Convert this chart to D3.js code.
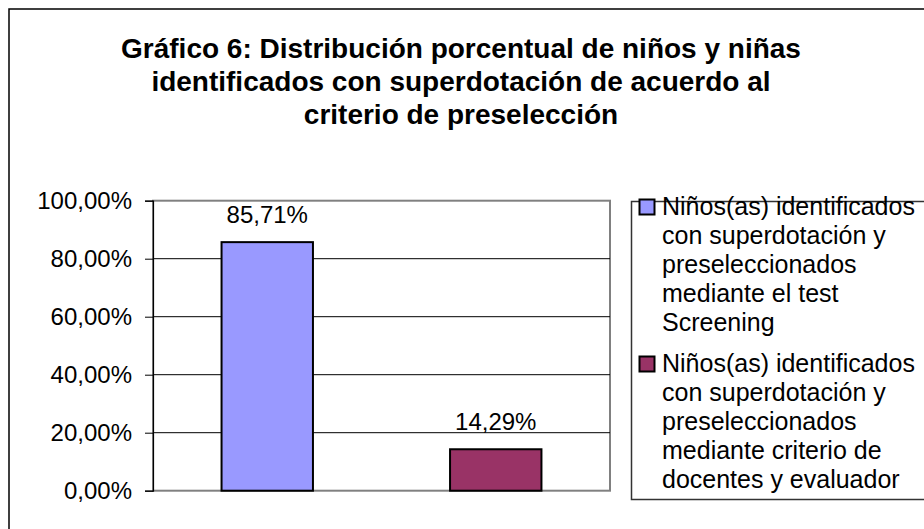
<!DOCTYPE html>
<html>
<head>
<meta charset="utf-8">
<script src="https://cdn.jsdelivr.net/npm/d3@7"></script>
<style>
  html, body { margin: 0; padding: 0; background: #fff; }
  svg { display: block; font-family: "Liberation Sans", Arial, sans-serif; }
</style>
</head>
<body>
<svg id="chart" width="924" height="529"></svg>
<script>
const titleLines = [
    "Gráfico 6: Distribución porcentual de niños y niñas",
    "identificados con superdotación de acuerdo al",
    "criterio de preselección"
];
const categories = ["screening", "docentes"];
const values = [0.8571, 0.1429];
const colors = ["#9999FF", "#993366"];
const legendLabels = [
    ["Niños(as) identificados", "con superdotación y", "preseleccionados", "mediante el test", "Screening"],
    ["Niños(as) identificados", "con superdotación y", "preseleccionados", "mediante criterio de", "docentes y evaluador"]
];
const yTicks = [0, 0.2, 0.4, 0.6, 0.8, 1.0];

const locale = d3.formatLocale({ decimal: ",", thousands: ".", grouping: [3], currency: ["", "€"] });
const pct = locale.format(".2%");

const width = 924, height = 529;
const plot = { left: 153, right: 610, top: 200.7, bottom: 490.7 };

const svg = d3.select("#chart");

// outer chart border (runs past the right and bottom edge of the picture)
svg.append("rect")
    .attr("x", 9).attr("y", 9)
    .attr("width", width + 10).attr("height", height + 10)
    .attr("fill", "#fff")
    .attr("stroke", "#000")
    .attr("stroke-width", 1.5);

// title
svg.append("g").selectAll("text")
    .data(titleLines)
    .join("text")
    .attr("x", 461)
    .attr("y", (d, i) => 58 + i * 33)
    .attr("text-anchor", "middle")
    .attr("font-size", 28)
    .attr("font-weight", "bold")
    .attr("fill", "#000")
    .text(d => d);

const x = d3.scaleBand()
    .domain(categories)
    .range([plot.left, plot.right])
    .paddingInner(0.6)
    .paddingOuter(0.3);

const y = d3.scaleLinear()
    .domain([0, 1])
    .range([plot.bottom, plot.top]);

// plot area border
svg.append("rect")
    .attr("x", plot.left).attr("y", plot.top)
    .attr("width", plot.right - plot.left)
    .attr("height", plot.bottom - plot.top)
    .attr("fill", "#fff")
    .attr("stroke", "#808080")
    .attr("stroke-width", 2);

// gridlines
svg.append("g").selectAll("line")
    .data(yTicks.filter(t => t > 0 && t < 1))
    .join("line")
    .attr("x1", plot.left).attr("x2", plot.right)
    .attr("y1", d => y(d)).attr("y2", d => y(d))
    .attr("stroke", "#000")
    .attr("stroke-width", 1);

// y axis
const yAxis = svg.append("g")
    .attr("transform", `translate(${plot.left},0)`)
    .call(d3.axisLeft(y).tickValues(yTicks).tickFormat(pct).tickSize(8).tickPadding(13));
yAxis.select(".domain").attr("stroke", "#000").attr("stroke-width", 1.2);
yAxis.selectAll(".tick line").attr("stroke", "#000");
yAxis.selectAll(".tick text")
    .attr("font-size", 24)
    .attr("font-family", "\"Liberation Sans\", Arial, sans-serif")
    .attr("fill", "#000");

// bars
svg.append("g").selectAll("rect")
    .data(values)
    .join("rect")
    .attr("x", (d, i) => x(categories[i]))
    .attr("y", d => y(d))
    .attr("width", x.bandwidth())
    .attr("height", d => y(0) - y(d))
    .attr("fill", (d, i) => colors[i])
    .attr("stroke", "#000")
    .attr("stroke-width", 2);

// data labels
svg.append("g").selectAll("text")
    .data(values)
    .join("text")
    .attr("x", (d, i) => x(categories[i]) + x.bandwidth() / 2)
    .attr("y", d => y(d) - 19)
    .attr("text-anchor", "middle")
    .attr("font-size", 24)
    .attr("fill", "#000")
    .text(d => pct(d));

// legend
const legend = svg.append("g");
legend.append("rect")
    .attr("x", 631.5).attr("y", 201.5)
    .attr("width", 310).attr("height", 298)
    .attr("fill", "#fff")
    .attr("stroke", "#333")
    .attr("stroke-width", 1.5);

const lineH = 29;
const itemTop = [215, 372];
legendLabels.forEach((lines, i) => {
    legend.append("rect")
        .attr("x", 639.5).attr("y", itemTop[i] - 15.5)
        .attr("width", 15).attr("height", 15)
        .attr("fill", colors[i])
        .attr("stroke", "#000")
        .attr("stroke-width", 2);
    legend.append("g").selectAll("text")
        .data(lines)
        .join("text")
        .attr("x", 662)
        .attr("y", (d, j) => itemTop[i] + j * lineH)
        .attr("font-size", 25)
        .attr("fill", "#000")
        .text(d => d);
});
</script>
</body>
</html>
